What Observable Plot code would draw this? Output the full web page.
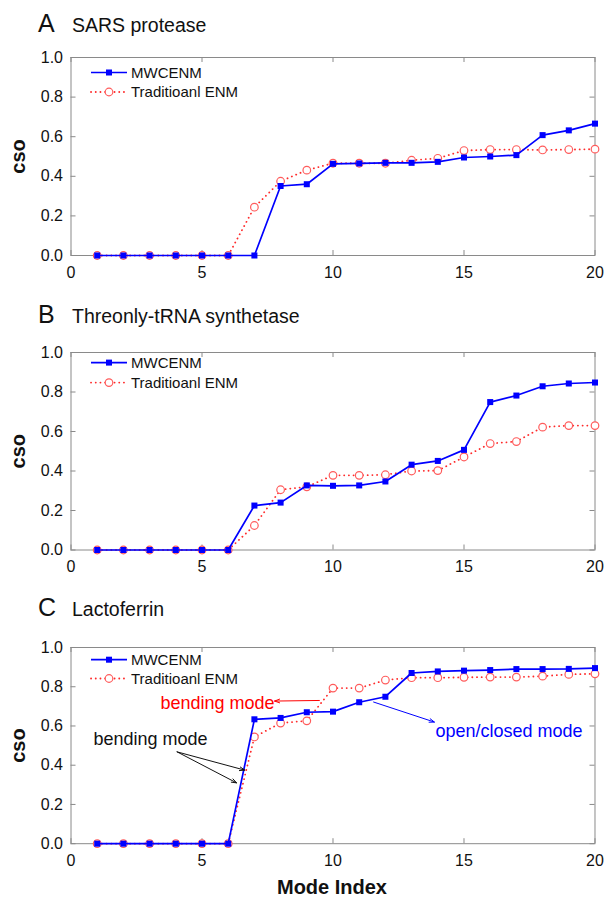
<!DOCTYPE html>
<html><head><meta charset="utf-8">
<script src="https://cdn.jsdelivr.net/npm/d3@7"></script>
<script src="https://cdn.jsdelivr.net/npm/@observablehq/plot@0.6"></script>
<style>
body{margin:0;background:#fff;}
#root{position:relative;width:604px;height:903px;overflow:hidden;font-family:"Liberation Sans",Arial,Helvetica,sans-serif;color:#111;}
.title{position:absolute;left:38px;white-space:nowrap;line-height:26px;}
.title .l{font-size:25px;display:inline-block;width:34px;}
.title .n{font-size:19.5px;}
.panel{position:absolute;left:0;}
#xlab{position:absolute;left:232px;width:200px;text-align:center;font-size:20px;font-weight:bold;line-height:24px;top:875px;}
</style></head>
<body><div id="root"></div>
<script>
const FONT = '"Liberation Sans", Arial, Helvetica, sans-serif';
// ---- data ----
const modes = [1,2,3,4,5,6,7,8,9,10,11,12,13,14,15,16,17,18,19,20];
const seriesNames = ["MWCENM", "Traditioanl ENM"];
const xTicks = [0,5,10,15,20];
const yTicks = [0,0.2,0.4,0.6,0.8,1.0];
const sarsMW = [0,0,0,0,0,0,0,0.351,0.36,0.463,0.465,0.468,0.468,0.473,0.495,0.50,0.507,0.608,0.632,0.666];
const sarsTR = [0,0,0,0,0,0,0.244,0.375,0.431,0.466,0.466,0.466,0.481,0.491,0.530,0.535,0.535,0.533,0.535,0.537];
const thrMW  = [0,0,0,0,0,0,0.225,0.240,0.327,0.325,0.327,0.347,0.432,0.451,0.507,0.749,0.782,0.829,0.843,0.848];
const thrTR  = [0,0,0,0,0,0,0.124,0.305,0.320,0.378,0.378,0.381,0.400,0.402,0.471,0.539,0.549,0.622,0.630,0.630];
const lacMW  = [0,0,0,0,0,0,0.634,0.641,0.670,0.673,0.721,0.749,0.870,0.878,0.882,0.885,0.890,0.890,0.891,0.895];
const lacTR  = [0,0,0,0,0,0,0.544,0.615,0.626,0.793,0.793,0.834,0.846,0.846,0.848,0.849,0.849,0.854,0.863,0.866];
// annotations (panel C), in data units
const noteTexts = [
  {x:3.42, y:0.717, text:"bending mode", color:"#ff0000"},
  {x:0.86, y:0.533, text:"bending mode", color:"#111111"},
  {x:13.91, y:0.574, text:"open/closed mode", color:"#0000ff"}
];
const noteArrows = [
  {x1:9.48, y1:0.730, x2:7.77, y2:0.727, color:"#ff0000"},
  {x1:4.05, y1:0.468, x2:6.63, y2:0.375, color:"#111111"},
  {x1:4.05, y1:0.468, x2:6.32, y2:0.310, color:"#111111"},
  {x1:11.55, y1:0.722, x2:13.87, y2:0.620, color:"#0000ff"}
];

const BLUE = "#0000ff", RED = "#ff2a2a", CIRC = "#ff5c5c", FRAME = "#8a8a8a";
const panels = [
  {letter:"A", name:"SARS protease", mw:sarsMW, tr:sarsTR, top:56.6, bottom:254.6, base:31, leg:[15.5,35], notes:false},
  {letter:"B", name:"Threonly-tRNA synthetase", mw:thrMW, tr:thrTR, top:351.7, bottom:549.2, base:321.7, leg:[10.6,30.6], notes:false},
  {letter:"C", name:"Lactoferrin", mw:lacMW, tr:lacTR, top:647.3, bottom:843.5, base:615, leg:[12.7,31.5], notes:true}
];
const root = document.getElementById("root");
const mt = 10, mb = 40, ml = 70.5, mr = 9.5;
const W = 604;
for (const p of panels) {
  const fh = p.bottom - p.top, fw = W - ml - mr;
  const rows = modes.map((m,i)=>({mode:m, mw:p.mw[i], tr:p.tr[i]}));
  const marks = [
    Plot.frame({stroke: FRAME, strokeWidth: 1}),
    Plot.tickX(xTicks, {x: d=>d, insetTop: fh-5, stroke: FRAME}),
    Plot.tickX(xTicks, {x: d=>d, insetBottom: fh-5, stroke: FRAME}),
    Plot.tickY(yTicks, {y: d=>d, insetRight: fw-5, stroke: FRAME}),
    Plot.tickY(yTicks, {y: d=>d, insetLeft: fw-5, stroke: FRAME}),
    Plot.axisX(xTicks, {tickSize: 0, tickPadding: 11, fontSize: 16, label: null}),
    Plot.axisY(yTicks, {tickSize: 0, tickPadding: 8, fontSize: 16, tickFormat: d3.format(".1f"), label: null}),
    Plot.text(["cso"], {text: d=>d, frameAnchor: "left", textAnchor: "middle", dx: 18-ml, rotate: -90, fontSize: 20, fontWeight: "bold", fill: "#111"}),
    Plot.line(rows, {x:"mode", y:"tr", stroke: RED, strokeWidth: 1.8, strokeDasharray: "0.1,4.6", strokeLinecap: "round"}),
    Plot.dot(rows, {x:"mode", y:"tr", r:3.8, stroke: CIRC, fill: "white", strokeWidth: 1.2}),
    Plot.line(rows, {x:"mode", y:"mw", stroke: BLUE, strokeWidth: 1.7}),
    Plot.dot(rows, {x:"mode", y:"mw", symbol:"square", r:3.4, fill: BLUE, stroke: "none"})
  ];
  if (p.notes) {
    for (const a of noteArrows) marks.push(Plot.arrow([a], {x1:"x1", y1:"y1", x2:"x2", y2:"y2", stroke: a.color, strokeWidth: 1, headLength: 8, headAngle: 40}));
    for (const t of noteTexts) marks.push(Plot.text([t], {x:"x", y:"y", text:"text", fill: t.color, fontSize: 18, textAnchor: "start"}));
  }
  const chart = Plot.plot({
    width: W, height: mt + fh + mb,
    marginTop: mt, marginBottom: mb, marginLeft: ml, marginRight: mr,
    style: {fontFamily: FONT, fontSize: "16px", color: "#111", background: "transparent", overflow: "visible"},
    x: {domain: [0,20]},
    y: {domain: [0,1]},
    marks
  });
  // legend inside the frame
  const svg = d3.select(chart);
  const g = svg.append("g").attr("font-family", FONT).attr("font-size", 15).attr("fill", "#111").attr("text-anchor", "start");
  const y1 = mt + p.leg[0], y2 = mt + p.leg[1];
  g.append("line").attr("x1", 91).attr("x2", 127).attr("y1", y1).attr("y2", y1).attr("stroke", BLUE).attr("stroke-width", 1.7);
  g.append("rect").attr("x", 106).attr("y", y1-3).attr("width", 6).attr("height", 6).attr("fill", BLUE);
  g.append("text").attr("x", 131).attr("y", y1).attr("dy", "0.35em").attr("text-anchor", "start").text(seriesNames[0]);
  g.append("line").attr("x1", 91).attr("x2", 127).attr("y1", y2).attr("y2", y2).attr("stroke", RED).attr("stroke-width", 1.8).attr("stroke-dasharray", "0.1,4.6").attr("stroke-linecap", "round");
  g.append("circle").attr("cx", 109).attr("cy", y2).attr("r", 3.8).attr("fill", "white").attr("stroke", CIRC).attr("stroke-width", 1.2);
  g.append("text").attr("x", 131).attr("y", y2).attr("dy", "0.35em").attr("text-anchor", "start").text(seriesNames[1]);

  const wrap = document.createElement("div");
  wrap.className = "panel";
  wrap.style.top = (p.top - mt) + "px";
  wrap.appendChild(chart);
  root.appendChild(wrap);

  const t = document.createElement("div");
  t.className = "title";
  t.style.top = (p.base - 21) + "px";
  t.innerHTML = `<span class="l">${p.letter}</span><span class="n">${p.name}</span>`;
  root.appendChild(t);
}
const xl = document.createElement("div");
xl.id = "xlab"; xl.textContent = "Mode Index";
root.appendChild(xl);
</script>
</body></html>
